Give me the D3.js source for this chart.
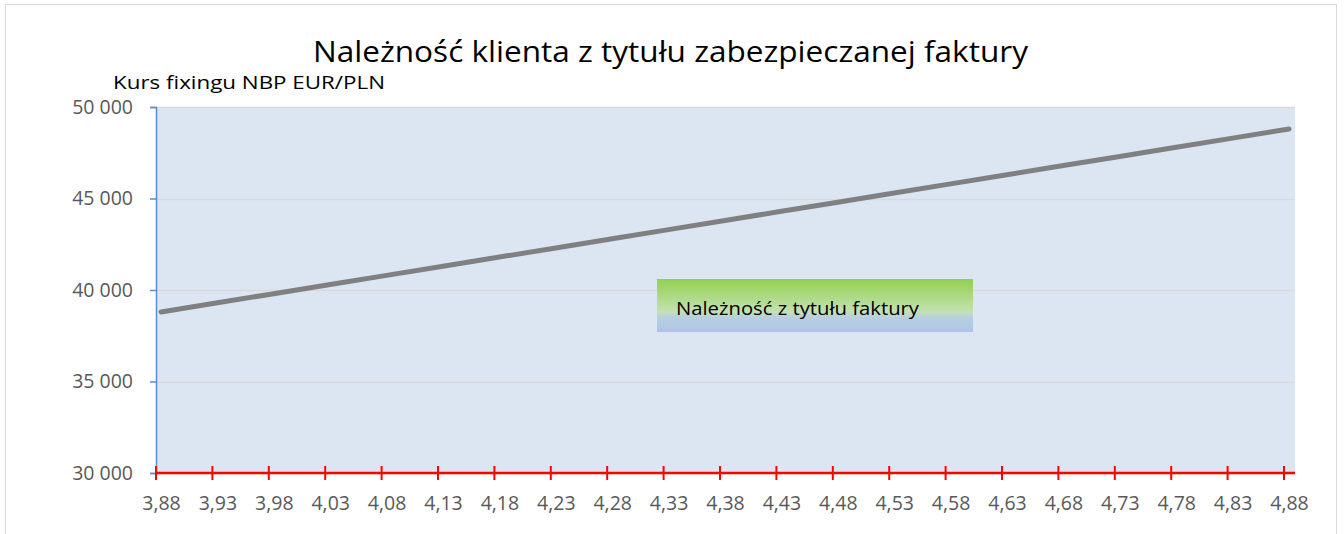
<!DOCTYPE html>
<html>
<head>
<meta charset="utf-8">
<script src="https://cdn.jsdelivr.net/npm/d3@7"></script>
<style>
  body { margin: 0; background: #fff; }
  text { font-family: "Open Sans", "Noto Sans", sans-serif; }
</style>
</head>
<body>
<div id="container"></div>
<script>
// data
var rates = [3.88, 3.93, 3.98, 4.03, 4.08, 4.13, 4.18, 4.23, 4.28, 4.33, 4.38,
             4.43, 4.48, 4.53, 4.58, 4.63, 4.68, 4.73, 4.78, 4.83, 4.88];
var amounts = [38800, 39300, 39800, 40300, 40800, 41300, 41800, 42300, 42800, 43300, 43800,
               44300, 44800, 45300, 45800, 46300, 46800, 47300, 47800, 48300, 48800];
var yTicks = [30000, 35000, 40000, 45000, 50000];
var title = "Należność klienta z tytułu zabezpieczanej faktury";
var yTitle = "Kurs fixingu NBP EUR/PLN";
var seriesName = "Należność z tytułu faktury";

var width = 1344;
var height = 534;
var plot = {left: 156, right: 1295, top: 107, bottom: 473};

const svg = d3.select("#container")
              .append("svg")
              .attr("width", width)
              .attr("height", height);

// chart frame
svg.append("rect")
   .attr("x", 5.5).attr("y", 4.5)
   .attr("width", 1331).attr("height", 540)
   .attr("fill", "#fff")
   .attr("stroke", "#d9d9d9");

var xScale = d3.scaleLinear()
               .domain([3.88, 4.88])
               .range([161, 1289]);

var yScale = d3.scaleLinear()
               .domain([30000, 50000])
               .range([plot.bottom, plot.top]);

// plot background
svg.append("rect")
   .attr("x", plot.left).attr("y", plot.top)
   .attr("width", plot.right - plot.left)
   .attr("height", plot.bottom - plot.top)
   .attr("fill", "#dce6f2");

// gridlines
svg.selectAll(".grid")
   .data(yTicks.slice(1))
   .enter()
   .append("line")
   .attr("x1", plot.left).attr("x2", plot.right)
   .attr("y1", d => Math.round(yScale(d)) + 0.5)
   .attr("y2", d => Math.round(yScale(d)) + 0.5)
   .attr("stroke", "#d9d9d9")
   .attr("stroke-width", 1.5);

// y axis
var yAxis = d3.axisLeft(yScale)
    .tickValues(yTicks)
    .tickSize(6)
    .tickPadding(17)
    .tickFormat(d => d3.format(",")(d).replace(",", " "));

var gy = svg.append("g")
   .attr("transform", "translate(" + plot.left + ",0)")
   .call(yAxis);
gy.select(".domain").attr("stroke", "#5b8ccf").attr("stroke-width", 1.5);
gy.selectAll(".tick line").attr("stroke", "#5b8ccf").attr("stroke-width", 1.5);
gy.selectAll(".tick text")
  .attr("fill", "#595959")
  .style("font-size", "19.5px");

// x axis (red)
var xAxis = d3.axisBottom(xScale)
    .tickValues(rates)
    .tickSize(0)
    .tickPadding(23)
    .tickFormat(d => d3.format(".2f")(d).replace(".", ","));

var gx = svg.append("g")
   .attr("transform", "translate(0," + plot.bottom + ")")
   .call(xAxis);
gx.select(".domain").remove();
gx.selectAll(".tick text")
  .attr("fill", "#595959")
  .style("font-size", "19.5px");

svg.append("line")
   .attr("x1", plot.left).attr("x2", plot.right)
   .attr("y1", plot.bottom).attr("y2", plot.bottom)
   .attr("stroke", "#ff0000")
   .attr("stroke-width", 2.5);

svg.selectAll(".xtick")
   .data(rates)
   .enter()
   .append("line")
   .attr("x1", d => xScale(d) - 5)
   .attr("x2", d => xScale(d) - 5)
   .attr("y1", plot.bottom - 7)
   .attr("y2", plot.bottom + 7)
   .attr("stroke", "#ff0000")
   .attr("stroke-width", 2);

// series line
var line = d3.line()
    .x((d, i) => xScale(rates[i]))
    .y(d => yScale(d));

svg.append("path")
   .datum(amounts)
   .attr("d", line)
   .attr("fill", "none")
   .attr("stroke", "#808080")
   .attr("stroke-width", 5)
   .attr("stroke-linecap", "round");

// legend box with gradient
var defs = svg.append("defs");
var grad = defs.append("linearGradient")
   .attr("id", "legGrad")
   .attr("x1", 0).attr("y1", 0).attr("x2", 0).attr("y2", 1);
grad.append("stop").attr("offset", "0%").attr("stop-color", "#92d050");
grad.append("stop").attr("offset", "62%").attr("stop-color", "#c4e1b2");
grad.append("stop").attr("offset", "72%").attr("stop-color", "#b9cfe0");
grad.append("stop").attr("offset", "100%").attr("stop-color", "#adc4e8");

svg.append("rect")
   .attr("x", 657).attr("y", 279)
   .attr("width", 316).attr("height", 53)
   .attr("fill", "url(#legGrad)");

svg.append("text")
   .attr("x", 676).attr("y", 315)
   .attr("fill", "#000")
   .attr("textLength", 243)
   .attr("lengthAdjust", "spacingAndGlyphs")
   .style("font-size", "18px")
   .text(seriesName);

// titles
svg.append("text")
   .attr("x", 313).attr("y", 62)
   .attr("fill", "#000")
   .attr("textLength", 715)
   .attr("lengthAdjust", "spacingAndGlyphs")
   .style("font-size", "29px")
   .text(title);

svg.append("text")
   .attr("x", 113).attr("y", 89)
   .attr("fill", "#000")
   .attr("textLength", 272)
   .attr("lengthAdjust", "spacingAndGlyphs")
   .style("font-size", "18px")
   .text(yTitle);
</script>
</body>
</html>
